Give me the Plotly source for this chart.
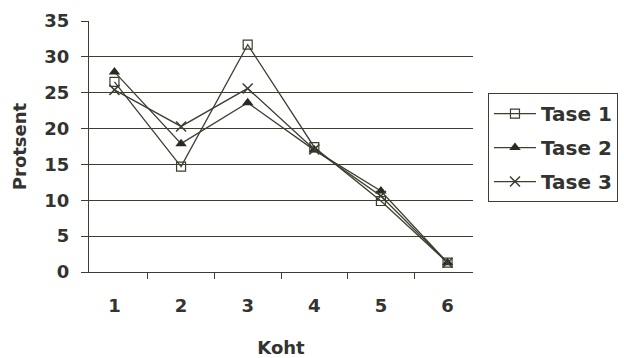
import plotly.graph_objects as go

categories = ["1", "2", "3", "4", "5", "6"]
tase1 = [26.5, 14.7, 31.7, 17.4, 9.9, 1.3]
tase2 = [27.9, 17.9, 23.6, 17.0, 11.3, 1.3]
tase3 = [25.4, 20.3, 25.6, 17.1, 10.6, 1.3]
series_names = ["Tase 1", "Tase 2", "Tase 3"]
y_ticks = [0, 5, 10, 15, 20, 25, 30, 35]

ink = "#3d3d30"
txt = "#333330"
font_family = "DejaVu Sans"

fig = go.Figure()
markers = [
    dict(symbol="square-open", size=9, color=ink, line=dict(width=1.2, color=ink)),
    dict(symbol="triangle-up", size=10, color="#2a2a22"),
    dict(symbol="x-thin-open", size=10, color=ink, line=dict(width=1.5, color=ink)),
]
for name, vals, mk in zip(series_names, [tase1, tase2, tase3], markers):
    fig.add_trace(go.Scatter(
        x=categories, y=vals, name=name, mode="lines+markers",
        line=dict(color=ink, width=1.3), marker=mk, legendgroup=name,
    ))

fig.update_layout(
    width=624, height=358,
    margin=dict(l=89, r=151, t=21, b=86, autoexpand=False),
    paper_bgcolor="white", plot_bgcolor="white",
    font=dict(family=font_family, color=txt, size=18),
    showlegend=True,
    legend=dict(
        x=1.039, y=0.713, xanchor="left", yanchor="top",
        bordercolor=ink, borderwidth=1, bgcolor="white",
        font=dict(family=font_family, size=20, color=txt, weight="bold"),
        tracegroupgap=5, traceorder="grouped", itemwidth=42,
    ),
    xaxis=dict(
        type="category", tickson="boundaries", ticks="outside", ticklen=6,
        tickcolor=ink, tickwidth=1.2, showgrid=False, showline=True,
        linecolor=ink, linewidth=1.3, zeroline=False, automargin=False,
        tickfont=dict(family=font_family, size=18, color=txt, weight="bold"),
        ticklabelstandoff=17,
        title=dict(text="Koht", font=dict(family=font_family, size=18, color=txt, weight="bold"), standoff=28),
    ),
    yaxis=dict(
        range=[0, 35], tickvals=y_ticks, ticks="outside", ticklen=7,
        tickcolor=ink, tickwidth=1.2, showgrid=True, gridcolor=ink, gridwidth=1.2,
        showline=True, linecolor=ink, linewidth=1.3, zeroline=False, automargin=False,
        tickfont=dict(family=font_family, size=18, color=txt, weight="bold"),
        ticklabelstandoff=8,
        title=dict(text="Protsent", font=dict(family=font_family, size=18, color=txt, weight="bold"), standoff=12),
    ),
)

fig.write_html("out.html")
